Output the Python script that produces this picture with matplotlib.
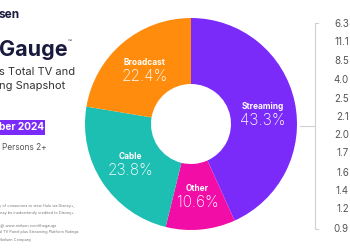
import matplotlib
matplotlib.use("Agg")
import matplotlib.pyplot as plt
import numpy as np

plt.rcParams['font.family'] = ['Inter', 'DejaVu Sans']

# Data
categories = ["Streaming", "Other", "Cable", "Broadcast"]
shares = [43.3, 10.6, 23.8, 22.4]
colors = ["#7B2BF9", "#F20DA6", "#1DBFB2", "#FF8C0C"]
side_values = ["6.3", "11.1", "8.5", "4.0", "2.5", "2.1", "2.0", "1.7", "1.6", "1.4", "1.2", "0.9"]

W, H = 350, 250
fig = plt.figure(figsize=(3.5, 2.5), dpi=100)
ax = fig.add_axes([0, 0, 1, 1])

def Y(y):
    return H - y

cx, cy, R, hole = 191, 124, 106, 40
wedges, _ = ax.pie(shares, colors=colors, startangle=90, counterclock=False,
                   center=(cx, Y(cy)), radius=R,
                   wedgeprops=dict(width=R - hole, edgecolor='none'))
ax.set_xlim(0, W)
ax.set_ylim(0, H)
ax.set_aspect('equal')
ax.axis('off')

# Wedge labels
for w, name, val in zip(wedges, categories, shares):
    ang = np.deg2rad((w.theta1 + w.theta2) / 2)
    r = 72
    if name == "Streaming":
        ang = np.deg2rad(8)
    lx = cx + r * np.cos(ang)
    ly = Y(cy) + r * np.sin(ang)
    ax.text(lx, ly + 7, name, color='white', fontsize=6, fontweight='bold',
            ha='center', va='center')
    ax.text(lx, ly - 7, f"{val:.1f}%", color='white', fontsize=11,
            fontweight='light', ha='center', va='center')

# Right side values with bracket
ys = [24, 42, 61, 80, 99, 117, 135, 153, 173, 191, 209, 229]
for v, yy in zip(side_values, ys):
    ax.text(349, Y(yy), v, color='#555555', fontsize=7, ha='right', va='center')
lc = '#d0d0d0'
ax.plot([318, 315, 315, 318], [Y(23), Y(23), Y(229), Y(229)], color=lc, lw=0.8)
ax.plot([300, 315], [Y(126), Y(126)], color=lc, lw=0.8)

# Left side text
navy = '#1a1a3c'
ax.text(-1, Y(15), "sen", color=navy, fontsize=8.5, fontweight='bold', ha='left', va='center')
g = ax.text(-1, Y(50), "Gauge", color=navy, fontsize=15.5, fontweight='bold', ha='left', va='center')
fig.canvas.draw()
bb = g.get_window_extent()
ax.text(bb.x1 + 0.5, Y(42), "™", color=navy, fontsize=4.5, ha='left', va='center')
ax.text(-1, Y(72), "s Total TV and", color='#333333', fontsize=8, ha='left', va='center')
ax.text(-1, Y(86), "ng Snapshot", color='#333333', fontsize=8, ha='left', va='center')
ax.add_patch(plt.Rectangle((-5, Y(135)), 50, 15, color='#7B2BF9', lw=0))
ax.text(-1, Y(127.5), "ber 2024", color='white', fontsize=7.3, fontweight='bold', ha='left', va='center')
ax.text(2, Y(147), "Persons 2+", color='#555555', fontsize=6, ha='left', va='center')

foot = [(206, "y of consumers to view Hulu via Disney+,"),
        (213, "may be inadvertently credited to Disney+"),
        (226, "r@ www.nielsen.com/thegauge"),
        (232, "al TV Panel plus Streaming Platform Ratings"),
        (240, "Nielsen Company")]
for yy, t in foot:
    ax.text(-1, Y(yy), t, color='#777777', fontsize=2.8, ha='left', va='center')

fig.savefig("out.png", dpi=100)
